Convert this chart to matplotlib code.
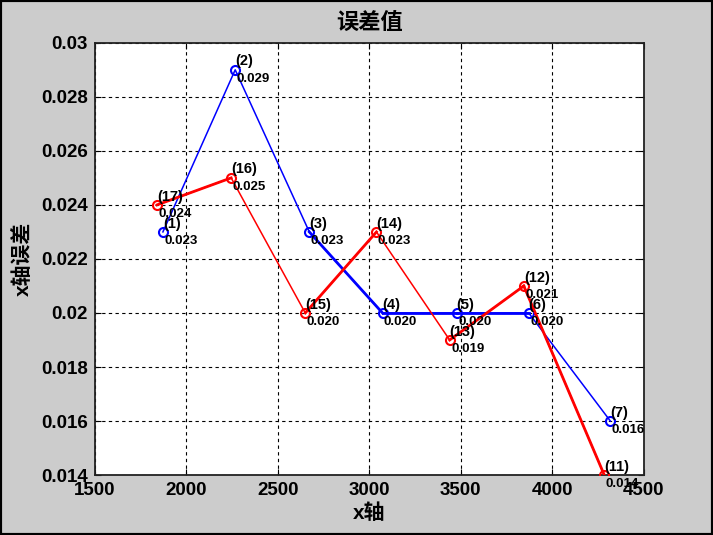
import numpy as np
import matplotlib
matplotlib.use("Agg")
import matplotlib.pyplot as plt
from matplotlib.patches import Rectangle

plt.rcParams['font.family'] = ['Liberation Sans', 'Noto Sans CJK SC', 'DejaVu Sans']

# blue series, points (1)..(7)
x_blue = [1872, 2267, 2672, 3072, 3477, 3871, 4317]
y_blue = [0.023, 0.029, 0.023, 0.020, 0.020, 0.020, 0.016]
lab_blue = [1, 2, 3, 4, 5, 6, 7]

# red series, points (17)..(11)
x_red = [1840, 2245, 2650, 3039, 3439, 3844, 4284]
y_red = [0.024, 0.025, 0.020, 0.023, 0.019, 0.021, 0.014]
lab_red = [17, 16, 15, 14, 13, 12, 11]

xticks = [1500, 2000, 2500, 3000, 3500, 4000, 4500]
yticks = [0.014, 0.016, 0.018, 0.02, 0.022, 0.024, 0.026, 0.028, 0.03]
ytick_labels = ['0.014', '0.016', '0.018', '0.02', '0.022', '0.024', '0.026', '0.028', '0.03']

# segments that look drawn heavier in the original
thick_blue = [2, 3, 4]
thick_red = [0, 2, 4, 5]

bg = '#cccccc'
fig = plt.figure(figsize=(7.13, 5.35), dpi=100, facecolor=bg)
ax = fig.add_axes([0.133, 0.112, 0.770, 0.808])
ax.set_facecolor('white')

def draw(xs, ys, labs, col, thick):
    ax.plot(xs, ys, color=col, lw=1.1, marker='o', ms=6.5, mfc='none',
            mec=col, mew=1.5, zorder=3)
    for i in thick:
        ax.plot(xs[i:i + 2], ys[i:i + 2], color=col, lw=2.0, zorder=3)
    for xv, yv, n in zip(xs, ys, labs):
        ax.annotate('(%d)' % n, (xv, yv), xytext=(0, 1), textcoords='offset points',
                    ha='left', va='bottom', fontsize=10.5, fontweight='bold',
                    annotation_clip=False, zorder=4)
        ax.annotate('%.3f' % yv, (xv, yv), xytext=(1, -2), textcoords='offset points',
                    ha='left', va='top', fontsize=9.5, fontweight='bold',
                    annotation_clip=False, zorder=4)

draw(x_blue, y_blue, lab_blue, 'blue', thick_blue)
draw(x_red, y_red, lab_red, 'red', thick_red)

ax.set_xlim(1500, 4500)
ax.set_ylim(0.014, 0.03)
ax.set_xticks(xticks)
ax.set_yticks(yticks)
ax.set_yticklabels(ytick_labels)
ax.grid(True, color='black', linestyle=(0, (3, 3)), lw=0.8)
ax.tick_params(direction='in', top=True, right=True, length=4, labelsize=13.5, pad=5)
for t in ax.get_xticklabels() + ax.get_yticklabels():
    t.set_fontweight('bold')
for s in ax.spines.values():
    s.set_linewidth(1.3)
    s.set_color('#222222')

ax.set_title('误差值', fontsize=16, fontweight='bold', pad=10)
ax.set_xlabel('x轴', fontsize=15, fontweight='bold', labelpad=3)
ax.set_ylabel('x轴误差', fontsize=15, fontweight='bold', labelpad=6)

fig.patches.append(Rectangle((0, 0), 1, 1, transform=fig.transFigure,
                             fill=False, edgecolor='black', lw=3))

fig.savefig('out.png', dpi=100, facecolor=bg)
